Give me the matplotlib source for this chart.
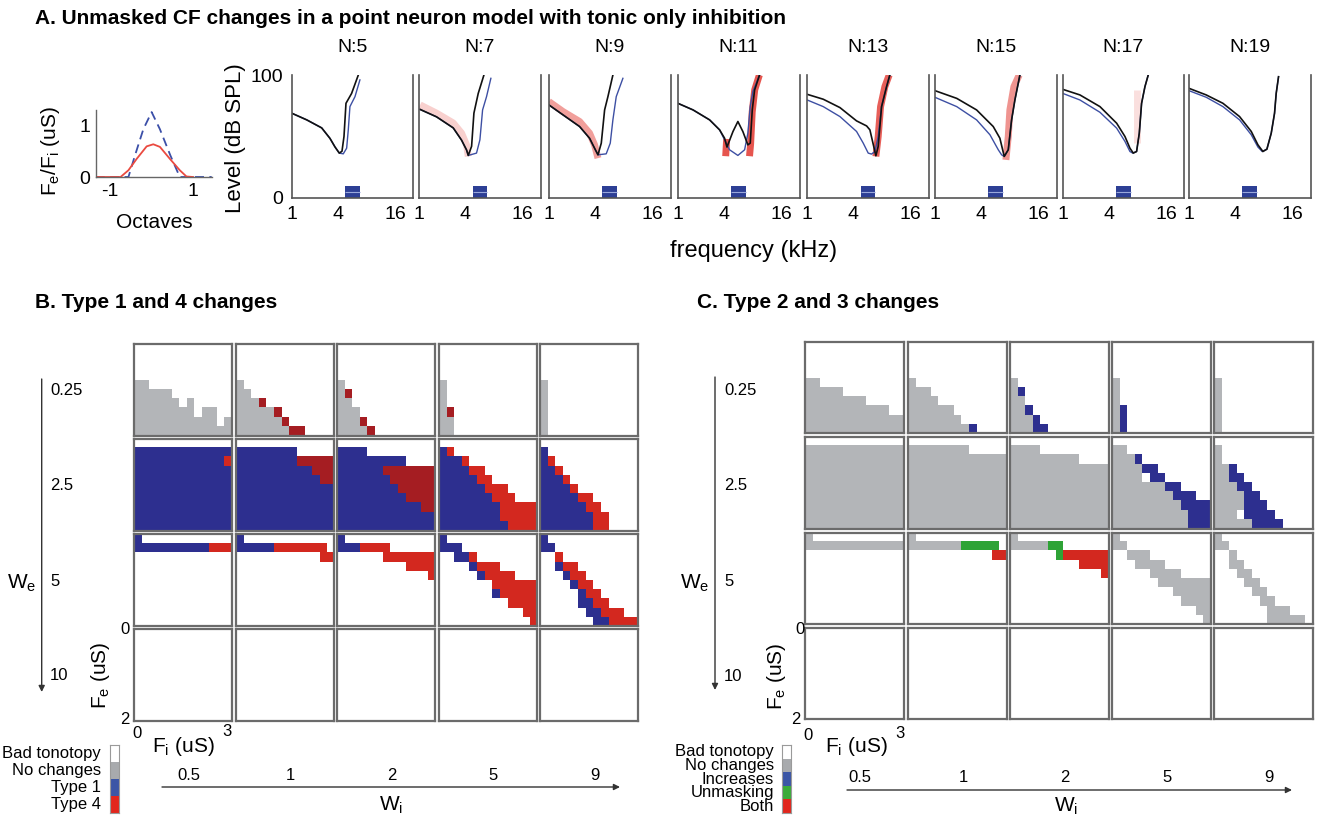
import numpy as np
import matplotlib
matplotlib.use("Agg")
import matplotlib.pyplot as plt
from matplotlib.colors import ListedColormap
from matplotlib.patches import FancyArrowPatch

plt.rcParams['font.family'] = ['Liberation Sans', 'DejaVu Sans']
plt.rcParams['mathtext.fontset'] = 'custom'
plt.rcParams['mathtext.rm'] = 'Liberation Sans'
plt.rcParams['mathtext.it'] = 'Liberation Sans:italic'
plt.rcParams['mathtext.bf'] = 'Liberation Sans:bold'

# ---------------- data: panel A inset (synaptic weight profiles) ----------------
inset_oct_e = [-1.35, -0.56, -0.4, -0.2, 0.0, 0.2, 0.45, 0.68, 1.45]
inset_Fe = [0, 0, 0.42, 0.92, 1.25, 0.92, 0.42, 0, 0]
inset_oct_i = [-1.35, -0.75, -0.56, -0.36, -0.12, 0.04, 0.2, 0.44, 0.68, 0.84, 1.0]
inset_Fi = [0, 0, 0.13, 0.35, 0.59, 0.63, 0.58, 0.35, 0.13, 0.01, 0]

# ---------------- data: panel A tuning curves ----------------
tc_titles = ['N:5', 'N:7', 'N:9', 'N:11', 'N:13', 'N:15', 'N:17', 'N:19']
black_f = [
    [1.30, 1.88, 2.70, 3.30, 3.73, 4.14, 4.42, 4.64, 4.87, 5.58, 6.57],
    [1.33, 1.98, 2.97, 3.64, 4.11, 4.28, 4.64, 4.91, 5.45, 6.26],
    [1.30, 1.83, 2.74, 3.49, 3.94, 4.28, 4.64, 5.03, 5.45, 6.15],
    [1.30, 1.88, 2.81, 3.58, 4.04, 4.28, 4.95, 5.58, 6.30, 7.11, 7.53, 7.91, 8.37, 9.44],
    [1.30, 1.92, 2.88, 4.31, 5.50, 5.96, 6.89, 7.29, 7.91, 8.93, 9.67],
    [1.30, 2.21, 3.58, 5.36, 6.30, 7.00, 7.72, 8.37, 9.07, 10.24],
    [1.30, 1.98, 3.22, 4.83, 5.91, 6.67, 7.23, 7.84, 8.37, 8.85, 9.60, 10.40],
    [1.30, 1.98, 2.97, 4.45, 5.91, 6.95, 7.84, 8.64, 9.60, 10.40, 10.83, 11.46],
]
black_l = [
    [69, 63.5, 57, 48.5, 41.5, 36.5, 38, 50, 77, 85, 100],
    [72, 66, 57, 47, 39, 34.6, 42, 69, 85, 100],
    [75.7, 67.6, 58.1, 48.6, 40.5, 35.1, 44.6, 71.6, 82.4, 100],
    [77, 71.6, 63.5, 55.4, 48.6, 41.4, 54, 62.2, 54, 43.2, 44.6, 71.6, 87.8, 100],
    [84.3, 80.3, 73.5, 62.7, 58.6, 55.4, 34.3, 41.9, 74.3, 90.5, 100],
    [87.3, 81, 71.6, 58.1, 48.6, 33.8, 39.2, 63.5, 79.7, 100],
    [88.4, 83.8, 74.3, 60.8, 50, 40.5, 36.5, 37.8, 52.7, 77, 90.5, 100],
    [89.2, 83.8, 77, 66.2, 54.1, 43.2, 37.8, 39.7, 52.7, 68.9, 85.1, 98.6],
]
blue_f = [
    [1.30, 1.88, 2.70, 3.30, 3.73, 4.14, 4.56, 4.95, 5.15, 5.36, 6.06, 6.83],
    [1.33, 1.98, 2.97, 3.64, 4.11, 4.28, 5.23, 5.68, 6.06, 6.67, 7.41],
    [1.30, 1.83, 2.74, 3.49, 3.94, 4.28, 5.23, 5.77, 6.15, 6.67, 7.84],
    [1.30, 1.88, 2.81, 3.58, 4.04, 4.56, 5.58, 6.57, 7.11, 7.53, 8.03, 9.44],
    [1.30, 1.92, 2.88, 4.31, 5.07, 5.72, 6.20, 6.73, 7.29, 7.91, 8.93, 9.67],
    [1.30, 2.21, 3.58, 4.95, 6.06, 6.57, 7.00, 7.72, 8.37, 9.07, 10.24],
    [1.30, 1.98, 3.22, 4.83, 5.91, 6.67, 7.15, 7.84, 8.37, 8.85, 9.60, 10.40],
    [1.30, 1.98, 2.97, 4.45, 5.91, 6.95, 7.72, 8.64, 9.60, 10.40, 10.83, 11.46],
]
blue_l = [
    [69, 63.5, 57, 48.5, 41.5, 36.5, 35.9, 40.5, 55.4, 74.3, 82.4, 96],
    [72, 66, 57, 47, 39, 34.6, 36.5, 47.3, 71.6, 82.4, 97.3],
    [75.7, 67.6, 58.1, 48.6, 40.5, 35.1, 35.9, 44.6, 63.5, 82.4, 97.3],
    [77, 71.6, 63.5, 55.4, 47.3, 39.2, 34.6, 39.2, 52.7, 74.3, 86.5, 100],
    [79.7, 74.3, 66.2, 54.1, 44.6, 36.5, 35.7, 37.8, 50, 74.3, 90.5, 100],
    [81.9, 74.3, 63.5, 51.4, 39.2, 35.1, 33.8, 39.2, 63.5, 79.7, 100],
    [85.1, 79.7, 69.7, 56.8, 46, 37.8, 36.5, 37.8, 52.7, 77, 90.5, 100],
    [87.3, 81.9, 74.3, 63.5, 51.4, 41.4, 37.8, 39.7, 52.7, 68.9, 85.1, 98.6],
]
red_f = [
    [],
    [1.33, 1.98, 2.97, 3.64, 4.11, 4.28],
    [1.30, 1.83, 2.74, 3.49, 3.94, 4.28],
    [4.15, 4.25, np.nan, 7.4, 7.6, 7.9, 8.4, 9.4],
    [6.89, 7.29, 7.72, 8.57, 9.52],
    [7.29, 7.72, 8.03, 8.85, 10.07],
    [7.84, 7.84],
    [],
]
red_l = [
    [],
    [75.7, 69, 61, 52.7, 43, 33.8],
    [78.4, 70.3, 62.2, 52.7, 43.2, 32.4],
    [34, 48, np.nan, 34, 44, 70, 88, 100],
    [33.8, 50, 74.3, 90.5, 100],
    [31, 50, 71.6, 90.5, 100],
    [45, 88],
    [],
]
red_alpha = [0, 0.22, 0.45, 0.8, 0.75, 0.5, 0.15, 0]
stim_f = [4.75, 6.8]
stim_level = 9.5
freq_ticks_lab = ['1', '4', '16']

# ---------------- data: panels B and C (13 F_i columns x 10 F_e rows) ----------------
# '.' bad tonotopy, 'g' no change, 'b' type1/increase, 'r' type4/both, 'R' dark red, 'u' unmasking
WHITE = ['.............'] * 10

B_row1 = [
    ['.............', '.............', '.............', '.............',
     'gg...........', 'ggggg........', 'gggggg.g.....', 'gggggggg.gg..',
     'ggggggggggg.g', 'ggggggggggggg'],
    ['.............', '.............', '.............', '.............',
     'g............', 'gg...........', 'gggR.........', 'gggggR.......',
     'ggggggR......', 'gggggggRR....'],
    ['.............', '.............', '.............', '.............',
     'g............', 'gR...........', 'gg...........', 'ggg..........',
     'gggR.........', 'ggggR........'],
    ['.............', '.............', '.............', '.............',
     'g............', 'g............', 'g............', 'gR...........',
     'gg...........', 'gg...........'],
    ['.............', '.............', '.............', '.............',
     'g............', 'g............', 'g............', 'g............',
     'g............', 'g............'],
]
B_row2 = [
    ['.............', 'bbbbbbbbbbbbb', 'bbbbbbbbbbbbr', 'bbbbbbbbbbbbb',
     'bbbbbbbbbbbbb', 'bbbbbbbbbbbbb', 'bbbbbbbbbbbbb', 'bbbbbbbbbbbbb',
     'bbbbbbbbbbbbb', 'bbbbbbbbbbbbb'],
    ['.............', 'bbbbbbbb.....', 'bbbbbbbbRRRRR', 'bbbbbbbbbbRRR',
     'bbbbbbbbbbbRR', 'bbbbbbbbbbbbb', 'bbbbbbbbbbbbb', 'bbbbbbbbbbbbb',
     'bbbbbbbbbbbbb', 'bbbbbbbbbbbbb'],
    ['.............', 'bbbb.........', 'bbbbbbbbb....', 'bbbbbbRRRRRRR',
     'bbbbbbbRRRRRR', 'bbbbbbbbRRRRR', 'bbbbbbbbbRRRR', 'bbbbbbbbbbbRR',
     'bbbbbbbbbbbbb', 'bbbbbbbbbbbbb'],
    ['.............', 'br...........', 'bbbr.........', 'bbbbrr.......',
     'bbbbbrr......', 'bbbbbbrrr....', 'bbbbbbbrrr...', 'bbbbbbbbrrrrr',
     'bbbbbbbbrrrrr', 'bbbbbbbbbrrrr'],
    ['.............', 'b............', 'br...........', 'bbr..........',
     'bbbr.........', 'bbbbr........', 'bbbbbrr......', 'bbbbbbrr.....',
     'bbbbbbbrr....', 'bbbbbbbrr....'],
]
B_row3 = [
    ['b............', 'bbbbbbbbbbrrr', '.............', '.............',
     '.............', '.............', '.............', '.............',
     '.............', '.............'],
    ['b............', 'bbbbbrrrrrrr.', '...........rr', '.............',
     '.............', '.............', '.............', '.............',
     '.............', '.............'],
    ['b............', 'bbbrrrr......', '......rrrrrrr', '.........rrrr',
     '............r', '.............', '.............', '.............',
     '.............', '.............'],
    ['b............', 'bbb..........', '..bbr........', '....brrr.....',
     '.....brrrr...', '.......rrrrrr', '.......brrrrr', '.........rrrr',
     '...........rr', '............r'],
    ['b............', 'bb...........', '..r..........', '..brr........',
     '...brr.......', '....brr......', '.....brr.....', '.....bbrr....',
     '......bbrrr..', '.......bbrrrr'],
]
B_row4 = [WHITE, WHITE, WHITE, WHITE, WHITE]

C_row1 = [
    ['.............', '.............', '.............', '.............',
     'gg...........', 'ggggg........', 'gggggggg.....', 'ggggggggggg..',
     'ggggggggggggg', 'ggggggggggggg'],
    ['.............', '.............', '.............', '.............',
     'g............', 'ggg..........', 'gggg.........', 'gggggg.......',
     'ggggggg......', 'ggggggggb....'],
    ['.............', '.............', '.............', '.............',
     'g............', 'gb...........', 'gg...........', 'ggb..........',
     'gggb.........', 'gggbb........'],
    ['.............', '.............', '.............', '.............',
     'g............', 'g............', 'g............', 'gb...........',
     'gb...........', 'gb...........'],
    ['.............', '.............', '.............', '.............',
     'g............', 'g............', 'g............', 'g............',
     'g............', 'g............'],
]
C_row2 = [
    ['.............', 'ggggggggggggg', 'ggggggggggggg', 'ggggggggggggg',
     'ggggggggggggg', 'ggggggggggggg', 'ggggggggggggg', 'ggggggggggggg',
     'ggggggggggggg', 'ggggggggggggg'],
    ['.............', 'gggggggg.....', 'ggggggggggggg', 'ggggggggggggg',
     'ggggggggggggg', 'ggggggggggggg', 'ggggggggggggg', 'ggggggggggggg',
     'ggggggggggggg', 'ggggggggggggg'],
    ['.............', 'gggg.........', 'ggggggggg....', 'ggggggggggggg',
     'ggggggggggggg', 'ggggggggggggg', 'ggggggggggggg', 'ggggggggggggg',
     'ggggggggggggg', 'ggggggggggggg'],
    ['.............', 'gg...........', 'gggb.........', 'ggggbb.......',
     'gggg.bb......', 'gggggggbb....', 'ggggggggbbb..', 'gggggggggbbbb',
     'ggggggggggbbb', 'ggggggggggbbb'],
    ['.............', 'g............', 'g............', 'ggb..........',
     'ggbb.........', 'gggbb........', 'ggggbb.......', 'ggggbbb......',
     'ggg.bbbb.....', 'gggggbbbb....'],
]
C_row3 = [
    ['g............', 'ggggggggggggg', '.............', '.............',
     '.............', '.............', '.............', '.............',
     '.............', '.............'],
    ['g............', 'ggggggguuuuu.', '...........rr', '.............',
     '.............', '.............', '.............', '.............',
     '.............', '.............'],
    ['g............', 'ggggguu......', '......urrrrrr', '.........rrrr',
     '............r', '.............', '.............', '.............',
     '.............', '.............'],
    ['g............', 'gg...........', '..ggg........', '...gggg......',
     '.....gggg....', '......ggggggg', '........ggggg', '.........gggg',
     '...........gg', '............g'],
    ['g............', 'gg...........', '..g..........', '..gg.........',
     '...gg........', '....gg.......', '.....gg......', '......gg.....',
     '.......ggg...', '.......ggggg.'],
]
C_row4 = [WHITE, WHITE, WHITE, WHITE, WHITE]

We_labels = ['0.25', '2.5', '5', '10']
Wi_labels = ['0.5', '1', '2', '5', '9']
B_legend = ['Bad tonotopy', 'No changes', 'Type 1', 'Type 4']
C_legend = ['Bad tonotopy', 'No changes', 'Increases', 'Unmasking', 'Both']

# ---------------- helpers ----------------
W, H = 1320, 817
fig = plt.figure(figsize=(W / 100, H / 100), dpi=100)


def add_ax(l, t, w, h):
    return fig.add_axes([l / W, 1 - (t + h) / H, w / W, h / H])


def ftext(x, y, s, **kw):
    kw.setdefault('va', 'center')
    return fig.text(x / W, 1 - y / H, s, **kw)


def farrow(x0, y0, x1, y1):
    fig.add_artist(FancyArrowPatch((x0 / W, 1 - y0 / H), (x1 / W, 1 - y1 / H),
                                   transform=fig.transFigure, arrowstyle='-|>',
                                   mutation_scale=9, lw=1.0, color='#333333',
                                   shrinkA=0, shrinkB=0))


codes = {'.': 0, 'g': 1, 'b': 2, 'r': 3, 'R': 4, 'u': 5}
cell_cmap = ListedColormap(['#ffffff', '#b3b5b8', '#2d2f8f', '#d3281f', '#a51d22', '#2ea336'])


def to_mat(rows):
    return np.array([[codes[c] for c in r.ljust(13, '.')[:13]] for r in rows])


# ---------------- panel A ----------------
ftext(35, 18, 'A. Unmasked CF changes in a point neuron model with tonic only inhibition',
      fontsize=15, fontweight='bold', ha='left')

axi = add_ax(95.7, 110, 116, 67)
axi.plot(inset_oct_e, inset_Fe, color='#3b4fa8', lw=1.3, ls=(0, (5, 3)))
axi.plot(inset_oct_i, inset_Fi, color='#ea4a40', lw=1.3)
axi.set_xlim(-1.35, 1.45)
axi.set_ylim(0, 1.29)
axi.set_xticks([-1, 1])
axi.set_xticklabels(['-1', '1'], fontsize=14)
axi.set_yticks([0, 1])
axi.set_yticklabels(['0', '1'], fontsize=14)
axi.tick_params(length=0, pad=4)
for s in ['top', 'right']:
    axi.spines[s].set_visible(False)
for s in ['left', 'bottom']:
    axi.spines[s].set_color('#666666')
    axi.spines[s].set_linewidth(1.0)
ftext(154, 222, 'Octaves', fontsize=15, ha='center')
ftext(50, 151, r'F$_\mathrm{e}$/F$_\mathrm{i}$ (uS)', fontsize=15, ha='center', rotation=90)

tc_left = [291.7, 419.3, 549, 678, 807.3, 935, 1062.7, 1189]
for i in range(8):
    ax = add_ax(tc_left[i], 75, 121.5, 123)
    ax.set_xscale('log', base=2)
    ax.set_xlim(1.304, 24.9)
    ax.set_ylim(0, 100)
    if red_alpha[i] > 0:
        ax.plot(red_f[i], red_l[i], color='#e02a22', alpha=red_alpha[i], lw=5,
                solid_capstyle='butt')
    ax.plot(blue_f[i], blue_l[i], color='#3d4fa3', lw=1.0)
    ax.plot(black_f[i], black_l[i], color='#111111', lw=1.2)
    ax.bar(stim_f[0], stim_level, width=stim_f[1] - stim_f[0], align='edge',
           color='#2d3f95', edgecolor='none')
    ax.hlines(stim_level / 2, stim_f[0], stim_f[1], color='#9aa8dc', lw=0.8)
    ax.minorticks_off()
    ax.set_xticks([1.304, 4, 16])
    ax.set_xticklabels(freq_ticks_lab, fontsize=14)
    if i == 0:
        ax.set_yticks([0, 100])
        ax.set_yticklabels(['0', '100'], fontsize=14)
    else:
        ax.set_yticks([])
    ax.tick_params(length=0, pad=6)
    ax.spines['top'].set_visible(False)
    for s in ['left', 'right', 'bottom']:
        ax.spines[s].set_color('#555555')
        ax.spines[s].set_linewidth(1.2)
    ftext(tc_left[i] + 60.75, 47, tc_titles[i], fontsize=14, ha='center')

ftext(235, 138, 'Level (dB SPL)', fontsize=16, ha='center', rotation=90)
ftext(754, 251, 'frequency (kHz)', fontsize=17, ha='center')


# ---------------- panels B and C ----------------
def draw_grid(rows_all, lefts, tops, cw, ch):
    for r, row in enumerate(rows_all):
        for c, grid in enumerate(row):
            ax = add_ax(lefts[c], tops[r], cw, ch)
            ax.imshow(to_mat(grid), cmap=cell_cmap, vmin=-0.5, vmax=5.5,
                      aspect='auto', interpolation='nearest', extent=(0, 3, 2, 0))
            ax.set_xticks([])
            ax.set_yticks([])
            for s in ax.spines.values():
                s.set_color('#6b6b6b')
                s.set_linewidth(1.6)


def draw_legend(x, top, h, labels, colors, label_x, fs):
    ax = add_ax(x, top, 9, h)
    n = len(labels)
    ax.imshow(np.arange(n).reshape(n, 1), cmap=ListedColormap(colors),
              vmin=-0.5, vmax=n - 0.5, aspect='auto', interpolation='nearest')
    ax.set_xticks([])
    ax.set_yticks([])
    for s in ax.spines.values():
        s.set_color('#9a9a9a')
        s.set_linewidth(0.8)
    seg = h / n
    for k, lab in enumerate(labels):
        ftext(label_x, top + seg * (k + 0.5), lab, fontsize=fs, ha='right')


# B
ftext(35, 303, 'B. Type 1 and 4 changes', fontsize=15, fontweight='bold', ha='left')
B_lefts = [134, 235.5, 337, 438.5, 540]
B_tops = [344, 439, 534, 629]
draw_grid([B_row1, B_row2, B_row3, B_row4], B_lefts, B_tops, 98, 91.5)
farrow(41.7, 379, 41.7, 692)
for k, lab in enumerate(We_labels):
    ftext(50, B_tops[k] + 47, lab, fontsize=12, ha='left')
ftext(22, 583, r'W$_\mathrm{e}$', fontsize=15, ha='center')
ftext(125, 630, '0', fontsize=12, ha='center')
ftext(125, 720, '2', fontsize=12, ha='center')
ftext(101, 675, r'F$_\mathrm{e}$ (uS)', fontsize=15, ha='center', rotation=90)
ftext(137, 734, '0', fontsize=12, ha='center')
ftext(227, 732, '3', fontsize=12, ha='center')
ftext(183, 746, r'F$_\mathrm{i}$ (uS)', fontsize=15, ha='center')
farrow(162, 787, 620, 787)
for k, lab in enumerate(Wi_labels):
    ftext(B_lefts[k] + 55, 776, lab, fontsize=12, ha='center')
ftext(391, 805, r'W$_\mathrm{i}$', fontsize=15, ha='center')
draw_legend(110, 745, 68, B_legend, ['#ffffff', '#a8aaad', '#3b56a6', '#e2261d'], 101, 12)

# C
ftext(697, 303, 'C. Type 2 and 3 changes', fontsize=15, fontweight='bold', ha='left')
C_lefts = [805, 908, 1010, 1112, 1213.5]
C_tops = [342, 437, 532.5, 627.5]
draw_grid([C_row1, C_row2, C_row3, C_row4], C_lefts, C_tops, 99, 91.5)
farrow(715, 377, 715, 690)
for k, lab in enumerate(We_labels):
    ftext(724, C_tops[k] + 49, lab, fontsize=12, ha='left')
ftext(695, 583, r'W$_\mathrm{e}$', fontsize=15, ha='center')
ftext(800, 630, '0', fontsize=12, ha='center')
ftext(796, 720, '2', fontsize=12, ha='center')
ftext(776, 676, r'F$_\mathrm{e}$ (uS)', fontsize=15, ha='center', rotation=90)
ftext(808, 735, '0', fontsize=12, ha='center')
ftext(900, 733, '3', fontsize=12, ha='center')
ftext(856, 746, r'F$_\mathrm{i}$ (uS)', fontsize=15, ha='center')
farrow(847, 790, 1292, 790)
for k, lab in enumerate(Wi_labels):
    ftext(C_lefts[k] + 55, 778, lab, fontsize=12, ha='center')
ftext(1066, 806, r'W$_\mathrm{i}$', fontsize=15, ha='center')
draw_legend(782, 745, 68, C_legend,
            ['#ffffff', '#a8aaad', '#3b56a6', '#3bab3a', '#e1261d'], 774, 12)

fig.savefig('out.png', dpi=100)
